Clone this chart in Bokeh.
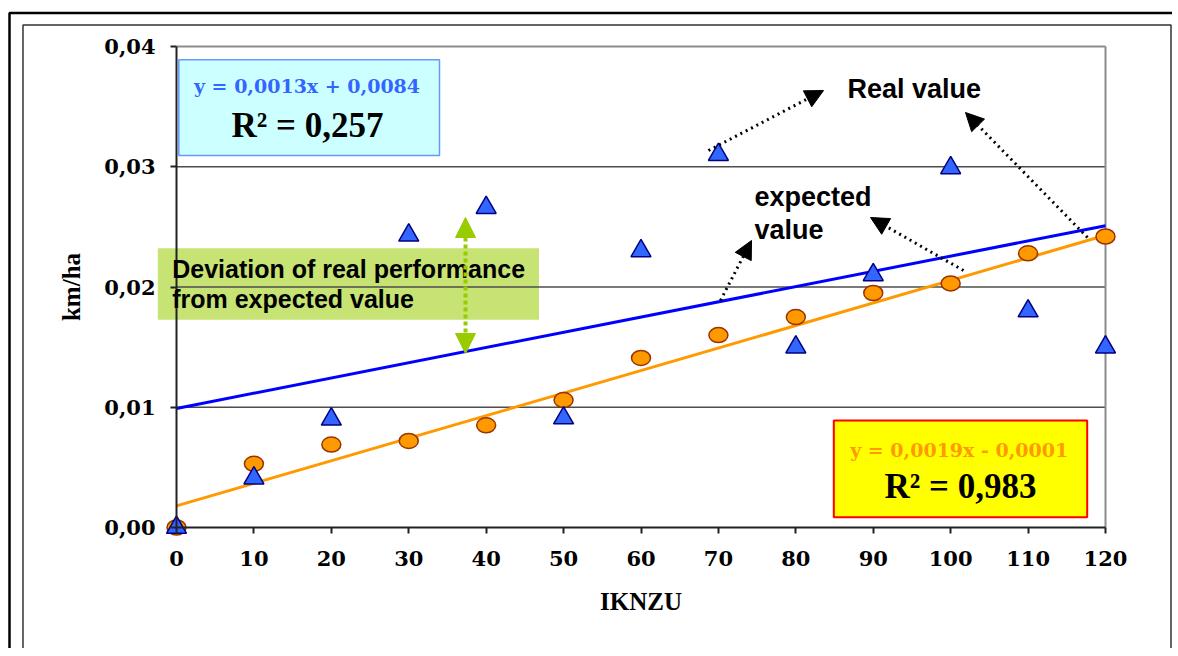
from bokeh.plotting import figure
from bokeh.models import (Range1d, FixedTicker, CustomJSTickFormatter, Label,
                          BoxAnnotation, Arrow, NormalHead, ColumnDataSource)
from bokeh.embed import file_html
from bokeh.resources import INLINE

# ---------------- data ----------------
ikznu = [0, 10, 20, 30, 40, 50, 60, 70, 80, 90, 100, 110, 120]
expected_km_ha = [0.0000, 0.0053, 0.0069, 0.0072, 0.0085, 0.0106, 0.0141,
                  0.0160, 0.0175, 0.0195, 0.0203, 0.0228, 0.0242]
real_km_ha = [0.0000, 0.0041, 0.0090, 0.0243, 0.0266, 0.0091, 0.0230,
              0.0310, 0.0150, 0.0210, 0.0299, 0.0180, 0.0150]
trend_x = [0, 120]
real_trend_y = [0.0099, 0.0251]
expected_trend_y = [0.0018, 0.0243]
x_ticks = [0, 10, 20, 30, 40, 50, 60, 70, 80, 90, 100, 110, 120]
y_ticks = [0.00, 0.01, 0.02, 0.03, 0.04]
grid_y = [0.01, 0.02, 0.03]

SERIF = "Liberation Serif"
WSERIF = "DejaVu Serif"
SANS = "Liberation Sans"

W, H = 1172, 648
# pixel geometry of the plot area (x: 0..120 -> 176..1105, y: 0..0.04 -> 527..46)
PX0, PX1, PY0, PY1 = 176.0, 1105.0, 527.0, 46.0
KX = (PX1 - PX0) / (x_ticks[-1] - x_ticks[0])
KY = (PY0 - PY1) / (y_ticks[-1] - y_ticks[0])


def X(px):
    return (px - PX0) / KX


def Y(py):
    return (PY0 - py) / KY


p = figure(width=W, height=H,
           x_range=Range1d(X(0), X(W)), y_range=Range1d(Y(H), Y(0)),
           output_backend="svg", toolbar_location=None,
           min_border_left=0, min_border_right=0,
           min_border_top=0, min_border_bottom=0)
p.outline_line_color = None
p.xgrid.visible = False
p.ygrid.visible = False
p.background_fill_color = "white"
p.border_fill_color = "white"

# page frame lines
p.add_layout(BoxAnnotation(left=X(9), right=X(3000), top=Y(12.5), bottom=Y(3000),
                           fill_color=None, fill_alpha=0, line_color="black",
                           line_alpha=1, line_width=2.5, level="underlay"))
p.add_layout(BoxAnnotation(left=X(22.5), right=X(1170.5), top=Y(24.5), bottom=Y(3000),
                           fill_color=None, fill_alpha=0, line_color="#333333",
                           line_alpha=1, line_width=1.5, level="underlay"))

# green deviation box
p.add_layout(BoxAnnotation(left=X(157.3), right=X(538.5), top=Y(247.7), bottom=Y(319.3),
                           fill_color="#99CC00", fill_alpha=0.55, line_color=None,
                           level="underlay"))

# gridlines and plot-area border
p.segment(x0=[x_ticks[0]] * len(grid_y), x1=[x_ticks[-1]] * len(grid_y),
          y0=grid_y, y1=grid_y, line_color="#4D4D4D", line_width=1.5)
p.segment(x0=[x_ticks[0], x_ticks[-1]], x1=[x_ticks[-1], x_ticks[-1]],
          y0=[y_ticks[-1], y_ticks[0]], y1=[y_ticks[-1], y_ticks[-1]],
          line_color="#8C8C8C", line_width=2)

# trend lines
p.line(trend_x, real_trend_y, line_color="#0000FF", line_width=3)
p.line(trend_x, expected_trend_y, line_color="#FF9900", line_width=3)

# markers
src = ColumnDataSource(dict(x=ikznu, exp=expected_km_ha, real=real_km_ha))
p.ellipse(x="x", y="exp", width=19, height=15, width_units="screen",
          height_units="screen", source=src, fill_color="#FF9900",
          line_color="#993300", line_width=1.5)
p.scatter(x="x", y="real", marker="triangle", size=20, source=src,
          fill_color="#3366FF", line_color="#000080", line_width=1.5)

# axes
for ax in p.xaxis:
    ax.fixed_location = 0
    ax.bounds = (x_ticks[0], x_ticks[-1])
    ax.ticker = FixedTicker(ticks=x_ticks)
    ax.axis_label = "IKNZU"
    ax.axis_label_standoff = 19
    ax.major_label_standoff = 17
for ax in p.yaxis:
    ax.fixed_location = 0
    ax.bounds = (y_ticks[0], y_ticks[-1])
    ax.ticker = FixedTicker(ticks=y_ticks)
    ax.formatter = CustomJSTickFormatter(code="return tick.toFixed(2).replace('.', ',');")
    ax.axis_label = "km/ha"
    ax.axis_label_standoff = 16
    ax.major_label_standoff = 15
for ax in list(p.xaxis) + list(p.yaxis):
    ax.axis_line_color = "#222222"
    ax.axis_line_width = 2
    ax.major_tick_line_color = "#222222"
    ax.major_tick_line_width = 2
    ax.major_tick_out = 6
    ax.major_tick_in = 0
    ax.minor_tick_line_color = None
    ax.major_label_text_font = WSERIF
    ax.major_label_text_font_style = "bold"
    ax.major_label_text_font_size = "21px"
    ax.major_label_text_color = "black"
    ax.axis_label_text_font = SERIF
    ax.axis_label_text_font_style = "bold"
    ax.axis_label_text_font_size = "25px"
    ax.axis_label_text_color = "black"

# equation boxes
p.add_layout(BoxAnnotation(left=X(178.3), right=X(439), top=Y(59.3), bottom=Y(155),
                           fill_color="#CCFFFF", fill_alpha=1, line_color="#6699FF",
                           line_alpha=1, line_width=1.5))
p.add_layout(BoxAnnotation(left=X(833.3), right=X(1086.7), top=Y(420), bottom=Y(516.7),
                           fill_color="#FFFF00", fill_alpha=1, line_color="#FF0000",
                           line_alpha=1, line_width=2))

BASE_FIX = 0.38


def lab(px, py_baseline, text, font, size, color="black", align="left"):
    y = Y(py_baseline - BASE_FIX * size)
    p.add_layout(Label(x=X(px), y=y, text=text, text_font=font,
                       text_font_size=f"{size}px", text_font_style="bold",
                       text_color=color, text_align=align, text_baseline="alphabetic"))


lab(306.5, 92.7, "y = 0,0013x + 0,0084", WSERIF, 19, "#3366FF", "center")
lab(307, 138, "R² = 0,257", SERIF, 35, "black", "center")
lab(958.7, 457, "y = 0,0019x - 0,0001", WSERIF, 19, "#FF9900", "center")
lab(960, 499, "R² = 0,983", SERIF, 35, "black", "center")

lab(847, 99, "Real value", SANS, 27)
lab(754, 207, "expected", SANS, 27)
lab(754, 240, "value", SANS, 27)
lab(171.7, 278, "Deviation of real performance", SANS, 25)
lab(171.7, 308, "from expected value", SANS, 25)


# arrows
def black_arrow(p0, p1):
    p.add_layout(Arrow(x_start=X(p0[0]), y_start=Y(p0[1]), x_end=X(p1[0]), y_end=Y(p1[1]),
                       start=None,
                       end=NormalHead(size=18, fill_color="black", line_color="black"),
                       line_color="black", line_width=3, line_dash="2 4"))


black_arrow((708, 150), (823, 90))
black_arrow((1087, 237), (965, 112))
black_arrow((720, 300), (751, 240))
black_arrow((963, 270), (870, 217))

p.add_layout(Arrow(x_start=X(465), y_start=Y(353), x_end=X(465), y_end=Y(217),
                   start=NormalHead(size=20, fill_color="#99CC00", line_color="#99CC00"),
                   end=NormalHead(size=20, fill_color="#99CC00", line_color="#99CC00"),
                   line_color="#99CC00", line_width=4, line_dash="4 3"))

open("out.html", "w").write(file_html(p, INLINE))
